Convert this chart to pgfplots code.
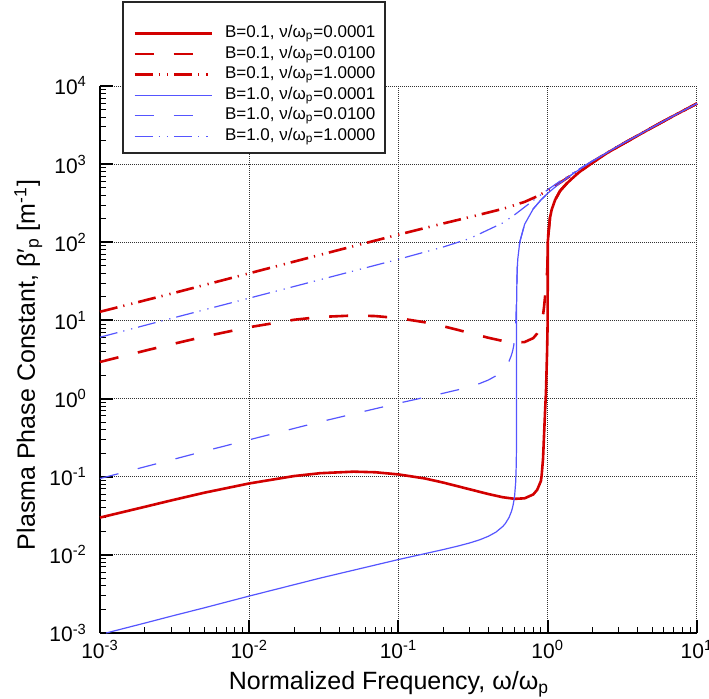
\documentclass[border=0pt]{standalone}
\usepackage{fontspec}
\setmainfont{Liberation Sans}
\usepackage{pgfplots}
\pgfplotsset{compat=1.18}
\definecolor{cred}{RGB}{210,0,0}
\definecolor{cblue}{RGB}{85,85,255}
\begin{document}
\begin{tikzpicture}
\begin{axis}[
  name=ax,
  scale only axis, width=298.5pt, height=273.5pt,
  xmode=log, ymode=log, log basis x=10, log basis y=10,
  xmin=1e-3, xmax=10, ymin=1e-3, ymax=1e4,
  clip=false,
  axis x line*=bottom, axis y line*=left,
  axis line style={-, line width=1.2pt, black},
  tick align=inside,
  xtick={0.001,0.01,0.1,1,10},
  ytick={0.001,0.01,0.1,1,10,100,1000,10000},
  minor xtick={0.002,0.003,0.004,0.005,0.006,0.007,0.008,0.009,0.02,0.03,0.04,0.05,0.06,0.07,0.08,0.09,0.2,0.3,0.4,0.5,0.6,0.7,0.8,0.9,2,3,4,5,6,7,8,9},
  minor ytick={0.002,0.003,0.004,0.005,0.006,0.007,0.008,0.009,0.02,0.03,0.04,0.05,0.06,0.07,0.08,0.09,0.2,0.3,0.4,0.5,0.6,0.7,0.8,0.9,2,3,4,5,6,7,8,9,20,30,40,50,60,70,80,90,200,300,400,500,600,700,800,900,2000,3000,4000,5000,6000,7000,8000,9000},
  xticklabel={\pgfmathtruncatemacro\myexp{round(\tick)}10\textsuperscript{\myexp}},
  yticklabel={\pgfmathtruncatemacro\myexp{round(\tick)}10\textsuperscript{\myexp}},
  tick label style={font=\fontsize{10.5}{12}\selectfont},
  yticklabel style={xshift=-3pt},
  major tick length=6.5pt, minor tick length=3pt,
  every major tick/.style={line width=1pt, black},
  every minor tick/.style={line width=0.5pt, black},
  grid=major,
  major grid style={black!80, line width=0.5pt, dash pattern=on 0.5pt off 0.5pt},
  xlabel={Normalized Frequency, ω/ω\textsubscript{p}},
  xlabel style={font=\fontsize{12.5}{14}\selectfont, at={(axis description cs:0.484,0)}, anchor=base, yshift=-28.5pt},
  ylabel={Plasma Phase Constant, β′\textsubscript{p} [m\textsuperscript{-1}]},
  ylabel style={font=\fontsize{12.5}{14}\selectfont, at={(axis description cs:-0.1089,0.49)}, anchor=base},
  legend style={at={(axis description cs:0.0553,1.1155)}, anchor=north west, draw=none, fill=none,
    inner sep=0pt, row sep=0pt, column sep=6pt, font=\fontsize{8.5}{10}\selectfont,
    nodes={inner sep=0pt, text height=7.2pt, text depth=3.07pt}},
  legend cell align=left,
  legend image code/.code={\draw[#1] (0pt,0pt) -- (38.5pt,0pt);},
  every axis plot/.append style={line join=round},
]
\draw[draw=black!85, fill=white, line width=0.75pt] (rel axis cs:0.0385,0.8775) rectangle (rel axis cs:0.4774,1.1536);

% B=0.1, nu=0.0001
\addplot[cred, line width=1.3pt] coordinates {
(0.001,0.0300) (0.002,0.0412) (0.003,0.0497) (0.005,0.0624) (0.01,0.082) (0.02,0.102) (0.03,0.111)
(0.05,0.116) (0.07,0.114) (0.1,0.107) (0.15,0.095) (0.2,0.084) (0.3,0.069) (0.4,0.060) (0.5,0.0546)
(0.6,0.0521) (0.7,0.0529) (0.8,0.0593) (0.85,0.068) (0.9,0.088) (0.91,0.103) (0.93,0.17) (0.944,0.33)
(0.96,0.7) (0.973,1.2) (0.99,4) (0.999,10) (1.0,100) (1.035,205) (1.063,262) (1.12,348) (1.21,455)
(1.34,565) (1.5,690) (1.64,800) (1.92,992) (2.5,1390) (3,1700) (5,2941) (7,4170) (10,5970)
};
\addlegendentry{B=0.1, ν/ω\textsubscript{p}=0.0001}

% B=0.1, nu=0.01
\addplot[cred, line width=1.3pt, dash pattern=on 9.5pt off 10pt] coordinates {
(0.001,2.94) (0.002,4.1) (0.003,4.94) (0.005,6.21) (0.01,8.19) (0.02,10.2) (0.03,11.08) (0.05,11.56)
(0.07,11.37) (0.1,10.7) (0.15,9.47) (0.2,8.42) (0.3,6.92) (0.4,6.0) (0.5,5.46) (0.6,5.21) (0.7,5.29)
(0.8,5.94) (0.85,6.81) (0.9,9.0) (0.925,10.7) (0.945,15) (0.97,25) (0.984,33) (0.995,50) (1.0,76)
(1.005,120) (1.035,205) (1.063,262) (1.12,348) (1.21,455) (1.34,565) (1.5,690) (1.64,800) (1.92,992)
(2.5,1390) (3,1700) (5,2941) (7,4170) (10,5970)
};
\addlegendentry{B=0.1, ν/ω\textsubscript{p}=0.0100}

% B=0.1, nu=1
\addplot[cred, line width=1.3pt, dash pattern=on 9pt off 3pt on 0.6pt off 3.5pt on 0.6pt off 3pt] coordinates {
(0.001,12.9) (0.003,22.0) (0.01,40.1) (0.03,69.3) (0.05,89.3) (0.1,125.4) (0.2,174.4) (0.3,210)
(0.5,268) (0.7,329) (0.85,388) (1.0,461) (1.2,574) (1.5,760) (2,1079) (3,1710) (5,2945) (7,4175) (10,5970)
};
\addlegendentry{B=0.1, ν/ω\textsubscript{p}=1.0000}

% B=1.0, nu=0.0001
\addplot[cblue, line width=0.6pt] coordinates {
(0.0011,0.001) (0.002,0.00134) (0.003,0.00164) (0.005,0.0021) (0.01,0.00297) (0.03,0.00505)
(0.1,0.00871) (0.2,0.0117) (0.25,0.01295) (0.3,0.0142) (0.35,0.01558) (0.4,0.01728) (0.45,0.01955)
(0.5,0.0231) (0.52,0.0252) (0.55,0.030) (0.57,0.0355) (0.58,0.0398) (0.59,0.0462)
(0.6,0.0574) (0.61,0.0853) (0.615,0.139) (0.617,0.216) (0.6175,0.33) (0.618,2.06) (0.6185,12)
(0.619,17.2) (0.62,24.6) (0.625,46.5) (0.63,61.2) (0.65,101.4) (0.7,170) (0.8,268) (0.9,348)
(1.0,424) (1.2,567) (1.5,771) (2,1095) (3,1723) (5,2950) (7,4180) (10,5973)
};
\addlegendentry{B=1.0, ν/ω\textsubscript{p}=0.0001}

% B=1.0, nu=0.01
\addplot[cblue, line width=0.6pt, dash pattern=on 9.5pt off 10pt] coordinates {
(0.001,0.0948) (0.002,0.134) (0.003,0.164) (0.005,0.212) (0.01,0.297) (0.03,0.505) (0.1,0.872)
(0.2,1.171) (0.25,1.295) (0.3,1.419) (0.35,1.558) (0.4,1.727) (0.45,1.955) (0.5,2.31) (0.52,2.52)
(0.55,3.0) (0.57,3.55) (0.58,3.98) (0.59,4.6) (0.6,5.72) (0.61,8.46)
(0.618,20.6) (0.625,47.4) (0.64,83.6) (0.65,101) (0.7,170) (0.8,268) (0.9,348) (1.0,424) (1.2,567)
(1.5,771) (2,1095) (3,1723) (5,2950) (7,4180) (10,5973)
};
\addlegendentry{B=1.0, ν/ω\textsubscript{p}=0.0100}

% B=1.0, nu=1
\addplot[cblue, line width=0.6pt, dash pattern=on 9pt off 3pt on 0.6pt off 3.5pt on 0.6pt off 3pt] coordinates {
(0.001,6.1) (0.003,10.6) (0.01,19.3) (0.03,33.3) (0.1,60.7) (0.2,87.2) (0.3,111.7) (0.5,177)
(0.6,225) (0.7,282) (0.8,343) (1.0,471) (1.2,600) (1.5,791) (2,1107) (3,1728) (5,2955) (7,4185) (10,5975)
};
\addlegendentry{B=1.0, ν/ω\textsubscript{p}=1.0000}
\end{axis}
\pgfresetboundingbox
\path[shift={(ax.south west)}] (-50pt,-33pt) rectangle (304.5pt,316.5pt);
\end{tikzpicture}
\end{document}
